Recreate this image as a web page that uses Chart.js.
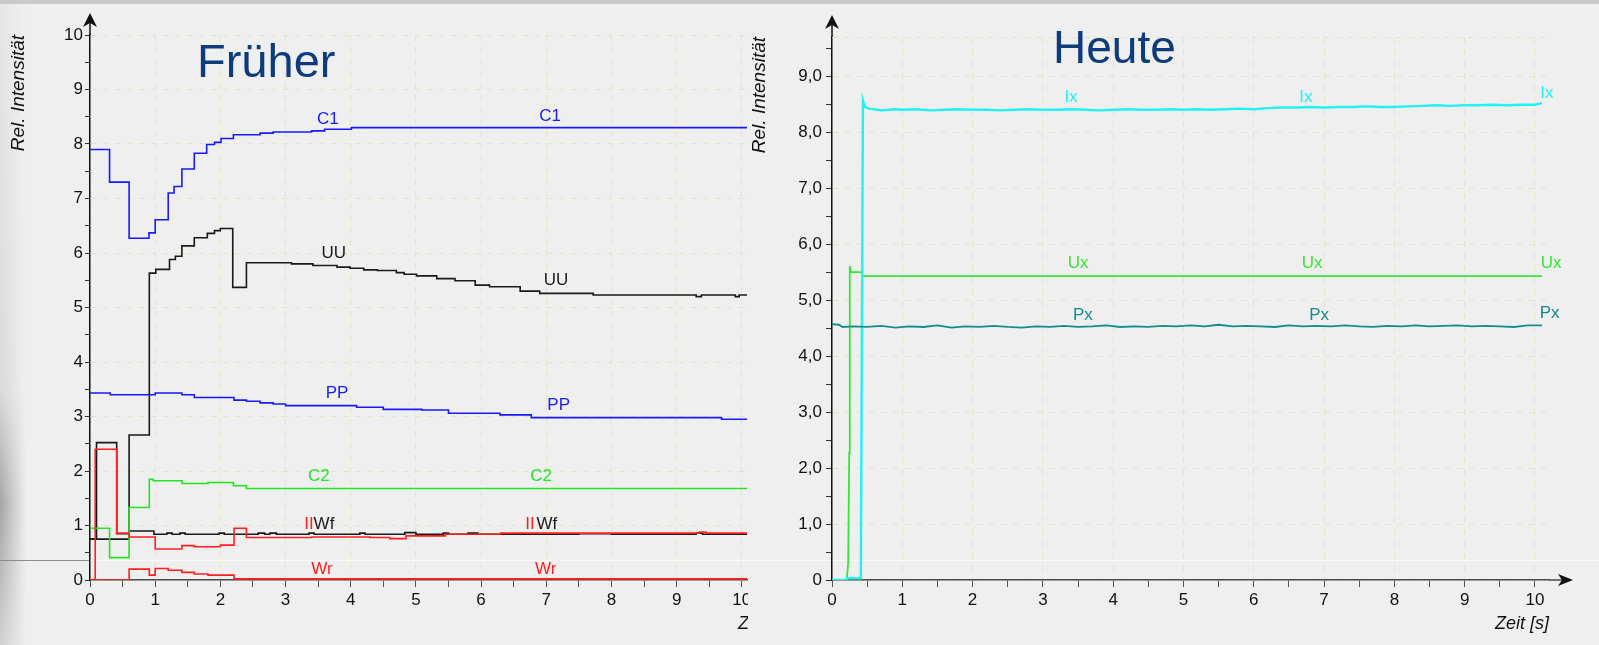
<!DOCTYPE html>
<html lang="de">
<head>
  <meta charset="UTF-8">
  <title>Früher / Heute</title>
  <script src="https://cdn.jsdelivr.net/npm/chart.js"></script>
  <style>
    html, body { margin: 0; padding: 0; }
    body {
      width: 1599px; height: 645px; position: relative; overflow: hidden;
      background: #efefef;
      font-family: Arial, "Liberation Sans", sans-serif;
    }
    /* slide background bits around the two pictures */
    .topband { position: absolute; left: 0; top: 0; width: 1599px; height: 4px; background: #c9c9c9; }
    .edge {
      position: absolute; left: 0; top: 4px; width: 26px; height: 641px;
      background:
        linear-gradient(to right, rgba(239,239,239,0) 0, #efefef 26px),
        linear-gradient(to bottom, #e6e6e6 0, #dadada 60%, #a4a4a4 78%, #b8b8b8 88%, #d0d0d0 100%);
    }
    .rule1 { position: absolute; left: 0; top: 560px; width: 90px; height: 1px; background: #8c8c8c; }
    .rule2 { position: absolute; left: 90px; top: 560px; width: 1509px; height: 1px; background: #fafafa; }
    #left { position: absolute; left: 0; top: 0; }
    #right { position: absolute; left: 748px; top: 0; }
  </style>
</head>
<body>
<div class="topband"></div>
<div class="edge"></div>
<div class="rule1"></div>
<div class="rule2"></div>
<canvas id="left" width="748" height="645"></canvas>
<canvas id="right" width="851" height="645"></canvas>

<script>
  // ---- Früher: step series (time s / rel. intensity) ----
  const c1T = [0, 0.30, 0.60, 0.905, 1.00, 1.20, 1.29, 1.41, 1.60, 1.79, 1.91, 2.01, 2.20, 2.61, 2.81, 3.40, 3.60, 4.01, 10.1];
  const c1V = [7.90, 7.30, 6.27, 6.37, 6.61, 7.10, 7.22, 7.54, 7.83, 7.99, 8.03, 8.10, 8.17, 8.20, 8.22, 8.24, 8.27, 8.30, 8.30];

  const uuT = [0, 0.60, 0.91, 1.01, 1.22, 1.31, 1.41, 1.60, 1.80, 1.91, 2.00, 2.19, 2.40, 3.09, 3.42, 3.79, 3.99, 4.20, 4.41, 4.70,
               4.82, 5.01, 5.32, 5.60, 5.91, 6.13, 6.60, 6.90, 7.72, 9.30, 9.38, 9.90, 9.96, 10.1];
  const uuV = [0.75, 2.66, 5.63, 5.70, 5.88, 5.94, 6.13, 6.28, 6.36, 6.41, 6.45, 5.37, 5.82, 5.80, 5.77, 5.74, 5.72, 5.69, 5.68, 5.64,
               5.61, 5.58, 5.53, 5.49, 5.41, 5.38, 5.30, 5.26, 5.23, 5.20, 5.23, 5.20, 5.23, 5.23];

  const ppT = [0, 0.31, 1.00, 1.41, 1.60, 2.21, 2.40, 2.61, 2.81, 3.00, 4.09, 4.50, 5.09, 5.50, 6.29, 6.77, 9.69, 10.1];
  const ppV = [3.43, 3.40, 3.43, 3.40, 3.35, 3.30, 3.28, 3.25, 3.23, 3.20, 3.17, 3.13, 3.12, 3.06, 3.03, 2.98, 2.95, 2.95];

  const c2T = [0, 0.30, 0.60, 0.91, 0.97, 1.41, 1.81, 2.20, 2.40, 10.1];
  const c2V = [0.95, 0.41, 1.33, 1.85, 1.82, 1.77, 1.79, 1.73, 1.68, 1.68];

  const wfT = [0, 0.10, 0.41, 0.60, 0.98, 1.18, 1.26, 1.38, 1.46, 1.98, 2.06, 2.58, 2.68, 2.76, 2.86, 3.36, 3.44, 4.14, 4.22, 4.83,
               5.00, 5.42, 5.50, 5.80, 5.95, 7.50, 8.00, 9.30, 9.40, 10.1];
  const wfV = [0.75, 2.52, 0.85, 0.90, 0.84, 0.86, 0.84, 0.86, 0.84, 0.86, 0.84, 0.86, 0.84, 0.86, 0.84, 0.86, 0.84, 0.86, 0.84, 0.87,
               0.84, 0.86, 0.84, 0.86, 0.84, 0.85, 0.84, 0.86, 0.84, 0.84];

  // red Wf trace and Wr
  const rfT = [0, 0.08, 0.41, 0.60, 1.00, 1.41, 1.60, 2.00, 2.21, 2.40, 3.40, 4.30, 4.60, 4.85, 5.45, 6.30, 9.35, 9.45, 10.1];
  const rfV = [0, 2.40, 0.86, 0.79, 0.57, 0.63, 0.61, 0.64, 0.95, 0.78, 0.79, 0.78, 0.76, 0.81, 0.84, 0.86, 0.88, 0.86, 0.86];

  const wrT = [0, 0.60, 0.91, 1.00, 1.20, 1.41, 1.60, 1.81, 2.21, 10.1];
  const wrV = [0, 0.20, 0.09, 0.21, 0.18, 0.14, 0.11, 0.09, 0.02, 0.02];

  // ---- Heute ----
  const ixT = [0, 0.21, 0.215, 0.41, 0.44, 0.47, 0.52, 0.6, 0.7, 0.8, 0.9, 1.0, 1.2, 1.4, 1.6, 1.8, 2.0, 2.2, 2.4, 2.6,
               2.8, 3.0, 3.2, 3.4, 3.6, 3.8, 4.0, 4.2, 4.4, 4.6, 4.8, 5.0, 5.2, 5.4, 5.6, 5.8, 6.0, 6.2, 6.4, 6.6,
               6.8, 7.0, 7.2, 7.4, 7.6, 7.8, 8.0, 8.2, 8.4, 8.6, 8.8, 9.0, 9.2, 9.4, 9.6, 9.8, 10.0, 10.1];
  const ixV = [0, 0, 0.03, 0.03, 8.57, 8.45, 8.42, 8.41, 8.39, 8.40, 8.41, 8.40, 8.41, 8.39, 8.40, 8.41, 8.40, 8.40, 8.39, 8.40,
               8.41, 8.40, 8.40, 8.41, 8.40, 8.39, 8.40, 8.41, 8.40, 8.40, 8.41, 8.40, 8.41, 8.40, 8.41, 8.42, 8.41, 8.43, 8.44, 8.44,
               8.45, 8.44, 8.45, 8.45, 8.46, 8.45, 8.45, 8.46, 8.47, 8.48, 8.47, 8.48, 8.48, 8.49, 8.48, 8.49, 8.49, 8.52];

  const uxT = [0, 0.21, 0.23, 0.245, 0.25, 0.256, 0.27, 0.42, 0.43, 10.1];
  const uxV = [0, 0, 0.30, 2.27, 2.62, 5.61, 5.50, 5.50, 5.43, 5.43];

  const pxT = [0, 0.1, 0.15, 0.3, 0.5, 0.7, 0.9, 1.1, 1.3, 1.5, 1.7, 1.9, 2.1, 2.3, 2.5, 2.7, 2.9, 3.1, 3.3, 3.5,
               3.7, 3.9, 4.1, 4.3, 4.5, 4.7, 4.9, 5.1, 5.3, 5.5, 5.7, 5.9, 6.1, 6.3, 6.5, 6.7, 6.9, 7.1, 7.3, 7.5,
               7.7, 7.9, 8.1, 8.3, 8.5, 8.7, 8.9, 9.1, 9.3, 9.5, 9.7, 9.9, 10.1];
  const pxV = [4.57, 4.56, 4.52, 4.53, 4.52, 4.54, 4.51, 4.53, 4.52, 4.55, 4.51, 4.53, 4.52, 4.54, 4.52, 4.51, 4.53, 4.52, 4.54, 4.52,
               4.53, 4.55, 4.52, 4.53, 4.52, 4.54, 4.53, 4.55, 4.53, 4.56, 4.53, 4.54, 4.53, 4.52, 4.55, 4.53, 4.54, 4.53, 4.55, 4.53,
               4.52, 4.54, 4.53, 4.55, 4.53, 4.54, 4.55, 4.53, 4.54, 4.53, 4.52, 4.55, 4.55];

  const FONT = 'Arial, "Liberation Sans", sans-serif';
  const GRID = '#e7e2cc';
  const BLUE = '#1a1aff', BLACK = '#1a1a1a', GREEN = '#22e622', RED = '#ff1f1f';
  const CYAN = '#22f2f2', UXGREEN = '#33e833', TEAL = '#148c8c';

  // curve labels, placed in data units
  const leftLabels = [
    { t: 3.65, v: 8.46, text: 'C1', color: BLUE }, { t: 7.06, v: 8.50, text: 'C1', color: BLUE },
    { t: 3.74, v: 6.00, text: 'UU', color: BLACK }, { t: 7.15, v: 5.49, text: 'UU', color: BLACK },
    { t: 3.79, v: 3.43, text: 'PP', color: BLUE }, { t: 7.19, v: 3.21, text: 'PP', color: BLUE },
    { t: 3.51, v: 1.91, text: 'C2', color: GREEN }, { t: 6.92, v: 1.91, text: 'C2', color: GREEN },
    { t: 3.36, v: 1.03, text: 'II', color: RED }, { t: 3.59, v: 1.03, text: 'Wf', color: BLACK },
    { t: 6.75, v: 1.03, text: 'II', color: RED }, { t: 7.01, v: 1.03, text: 'Wf', color: BLACK },
    { t: 3.56, v: 0.20, text: 'Wr', color: RED }, { t: 6.99, v: 0.20, text: 'Wr', color: RED }
  ];
  const rightLabels = [
    { t: 3.40, v: 8.63, text: 'Ix', color: CYAN }, { t: 6.74, v: 8.63, text: 'Ix', color: CYAN }, { t: 10.17, v: 8.70, text: 'Ix', color: CYAN },
    { t: 3.50, v: 5.66, text: 'Ux', color: UXGREEN }, { t: 6.83, v: 5.66, text: 'Ux', color: UXGREEN }, { t: 10.23, v: 5.66, text: 'Ux', color: UXGREEN },
    { t: 3.57, v: 4.73, text: 'Px', color: TEAL }, { t: 6.93, v: 4.73, text: 'Px', color: TEAL }, { t: 10.21, v: 4.77, text: 'Px', color: TEAL }
  ];

  function pts(ts, vs) {
    return ts.map((t, i) => ({ x: t, y: vs[i] }));
  }

  function series(label, ts, vs, color, width, stepped) {
    return {
      label: label, data: pts(ts, vs), borderColor: color, borderWidth: width,
      pointRadius: 0, stepped: stepped, tension: 0, fill: false
    };
  }

  function gridColor(c) {
    return Number.isInteger(c.tick && c.tick.value) ? GRID : 'rgba(0,0,0,0)';
  }

  function xScale(max) {
    return {
      type: 'linear', min: 0, max: max,
      border: { color: '#4a4a4a', width: 1.5, dash: [6, 6] },
      grid: { color: gridColor, lineWidth: 1, tickColor: '#555', tickLength: 7, tickBorderDash: [] },
      ticks: {
        stepSize: 0.5, includeBounds: false, autoSkip: false, maxRotation: 0, padding: 3,
        color: '#111', font: { family: FONT, size: 17 },
        callback: v => Number.isInteger(v) ? String(v) : ''
      },
      afterFit: s => { s.height = 65; s.paddingLeft = 0; s.paddingRight = 0; }
    };
  }

  function yScale(max, width, fmt, titlePad, tickLen, pad) {
    return {
      type: 'linear', min: 0, max: max,
      border: { color: '#111', width: 1.5, dash: [6, 6] },
      grid: { color: gridColor, lineWidth: 1, tickColor: '#333', tickLength: tickLen, tickBorderDash: [] },
      ticks: {
        stepSize: 0.5, includeBounds: false, autoSkip: false, padding: pad,
        color: '#111', font: { family: FONT, size: 17 },
        callback: fmt
      },
      title: {
        display: true, text: 'Rel. Intensität', align: 'end', color: '#111',
        font: { family: FONT, size: 19, style: 'italic' }, padding: { top: titlePad, bottom: 0 }
      },
      afterFit: s => { s.width = width; s.paddingTop = 0; s.paddingBottom = 0; }
    };
  }

  function arrowUp(ctx, x, tip) {
    ctx.beginPath();
    ctx.moveTo(x, tip);
    ctx.lineTo(x - 7, tip + 14);
    ctx.lineTo(x, tip + 10);
    ctx.lineTo(x + 7, tip + 14);
    ctx.closePath();
    ctx.fill();
  }

  function arrowRight(ctx, tip, y) {
    ctx.beginPath();
    ctx.moveTo(tip, y);
    ctx.lineTo(tip - 15, y - 6);
    ctx.lineTo(tip - 11, y);
    ctx.lineTo(tip - 15, y + 6);
    ctx.closePath();
    ctx.fill();
  }

  // titles, curve names, axis arrows
  function decor(cfg) {
    return {
      id: 'decor',
      beforeDatasetsDraw(chart) {
        if (!cfg.topDash) return;
        const { ctx, chartArea: a } = chart;
        ctx.save();
        ctx.strokeStyle = GRID; ctx.lineWidth = 1; ctx.setLineDash([6, 6]);
        ctx.beginPath(); ctx.moveTo(a.left, a.top + 0.5); ctx.lineTo(a.right, a.top + 0.5); ctx.stroke();
        ctx.restore();
      },
      afterDraw(chart) {
        const { ctx, chartArea: a, scales: { x, y } } = chart;
        ctx.save();
        ctx.fillStyle = '#111'; ctx.strokeStyle = '#111'; ctx.lineWidth = 1.5;
        ctx.beginPath(); ctx.moveTo(a.left, a.top); ctx.lineTo(a.left, cfg.yTip + 8); ctx.stroke();
        arrowUp(ctx, a.left, cfg.yTip);
        if (cfg.xTip) {
          ctx.strokeStyle = '#4a4a4a'; ctx.fillStyle = '#111';
          ctx.beginPath(); ctx.moveTo(a.right, a.bottom); ctx.lineTo(cfg.xTip - 8, a.bottom); ctx.stroke();
          arrowRight(ctx, cfg.xTip, a.bottom);
        }

        ctx.textAlign = 'center'; ctx.textBaseline = 'middle';
        ctx.font = '17px ' + FONT;
        cfg.labels.forEach(l => {
          ctx.fillStyle = l.color;
          ctx.fillText(l.text, x.getPixelForValue(l.t), y.getPixelForValue(l.v));
        });

        ctx.textAlign = 'left'; ctx.textBaseline = 'alphabetic';
        ctx.fillStyle = '#0d3c7c';
        ctx.font = cfg.titleSize + 'px ' + FONT;
        ctx.fillText(cfg.title, cfg.titleX, cfg.titleY);

        if (cfg.cutLabel) {
          ctx.fillStyle = '#111';
          ctx.font = 'italic 18px ' + FONT;
          ctx.textBaseline = 'middle';
          ctx.fillText('Zeit [s]', cfg.cutLabel, 624);
        }
        ctx.restore();
      }
    };
  }

  const common = {
    responsive: false, animation: false, devicePixelRatio: 1,
    plugins: { legend: { display: false }, tooltip: { enabled: false }, title: { display: false } }
  };

  new Chart(document.getElementById('left'), {
    type: 'line',
    data: {
      datasets: [
        series('Wf (rot)', rfT, rfV, RED, 1.6, true),
        series('Wr', wrT, wrV, RED, 1.6, true),
        series('C2', c2T, c2V, GREEN, 1.6, true),
        series('Wf', wfT, wfV, BLACK, 1.6, true),
        series('PP', ppT, ppV, BLUE, 1.6, true),
        series('UU', uuT, uuV, BLACK, 1.6, true),
        series('C1', c1T, c1V, BLUE, 1.6, true)
      ]
    },
    options: Object.assign({}, common, {
      layout: { padding: { left: 0, right: 1, top: 35, bottom: 0 } },
      scales: {
        x: xScale(10.08),
        y: yScale(10, 90, v => Number.isInteger(v) ? String(v) : '', 7, 5, 2)
      }
    }),
    plugins: [decor({
      yTip: 13, labels: leftLabels, title: 'Früher', titleSize: 47, titleX: 197, titleY: 77, cutLabel: 738
    })]
  });

  new Chart(document.getElementById('right'), {
    type: 'line',
    data: {
      datasets: [
        series('Px', pxT, pxV, TEAL, 1.8, false),
        series('Ix', ixT, ixV, CYAN, 2.4, false),
        series('Ux', uxT, uxV, UXGREEN, 1.8, false)
      ]
    },
    options: Object.assign({}, common, {
      layout: { padding: { left: 0, right: 50, top: 37, bottom: 0 } },
      scales: {
        x: Object.assign(xScale(10.2), {
          title: {
            display: true, text: 'Zeit [s]', align: 'end', color: '#111',
            font: { family: FONT, size: 18, style: 'italic' }, padding: { top: 0, bottom: 10 }
          }
        }),
        y: yScale(9.7, 84, v => v === 0 ? '0' : (Number.isInteger(v) ? v.toFixed(1).replace('.', ',') : ''), 0, 6, 4)
      }
    }),
    plugins: [decor({
      yTip: 15, xTip: 825, topDash: true, labels: rightLabels, title: 'Heute', titleSize: 46, titleX: 305, titleY: 63
    })]
  });
</script>
</body>
</html>
